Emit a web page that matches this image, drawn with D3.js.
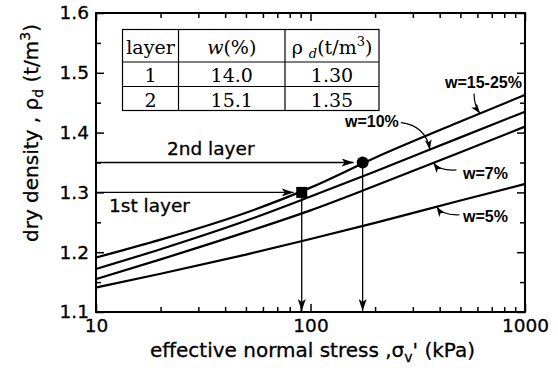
<!DOCTYPE html>
<html>
<head>
<meta charset="utf-8">
<script src="https://cdn.jsdelivr.net/npm/d3@7"></script>
<style>
  html, body { margin: 0; padding: 0; background: #fff; }
  svg { display: block; }
  .sans { stroke: #000; stroke-width: 0.3px; }
</style>
</head>
<body>
<svg id="chart" width="558" height="368"></svg>
<script>
// Compaction curves: dry density vs. effective normal stress
const stressKPa = [10, 20, 50, 100, 200, 500, 1000];
const rhoW15to25 = [1.191, 1.221, 1.266, 1.308, 1.358, 1.4185, 1.463];
const rhoW10 = [1.172, 1.205, 1.2525, 1.293, 1.335, 1.392, 1.435];
const rhoW7 = [1.155, 1.188, 1.2335, 1.270, 1.311, 1.367, 1.410];
const rhoW5 = [1.141, 1.164, 1.196, 1.222, 1.249, 1.2865, 1.314];

const curveNames = ["w=15-25%", "w=10%", "w=7%", "w=5%"];
const curveValues = [rhoW15to25, rhoW10, rhoW7, rhoW5];
// stress at which each label's leader touches its curve
const labelStress = [617, 360, 374, 387];

// layer table
const layerIds = ["1", "2"];
const layerW = ["14.0", "15.1"];
const layerRho = [1.30, 1.35];
const layerStress = [91, 175];

const xTicksMajor = [10, 100, 1000];
const xTicksMinor = [20, 30, 40, 50, 60, 70, 80, 90, 200, 300, 400, 500, 600, 700, 800, 900];
const yTicksMajor = [1.1, 1.2, 1.3, 1.4, 1.5, 1.6];
const yTicksMinor = [1.15, 1.25, 1.35, 1.45, 1.55];

const svg = d3.select("#chart");
const L = 96, R = 525, T = 13, B = 312;
const x = d3.scaleLog().domain([10, 1000]).range([L, R]);
const y = d3.scaleLinear().domain([1.1, 1.6]).range([B, T]);

const sans = "'DejaVu Sans', Verdana, sans-serif";
const labelSans = "'Liberation Sans', Arial, Helvetica, sans-serif";
const serif = "'DejaVu Serif', serif";

// arrowhead markers
const defs = svg.append("defs");
defs.append("marker")
  .attr("id", "head")
  .attr("markerUnits", "userSpaceOnUse")
  .attr("viewBox", "0 0 12 8")
  .attr("refX", 12).attr("refY", 4)
  .attr("markerWidth", 12).attr("markerHeight", 8)
  .attr("orient", "auto")
  .append("path").attr("d", "M0,0 L12,4 L0,8 L3,4 Z").attr("fill", "#000");
defs.append("marker")
  .attr("id", "headSmall")
  .attr("markerUnits", "userSpaceOnUse")
  .attr("viewBox", "0 0 10 7")
  .attr("refX", 10).attr("refY", 3.5)
  .attr("markerWidth", 10).attr("markerHeight", 7)
  .attr("orient", "auto")
  .append("path").attr("d", "M0,0 L10,3.5 L0,7 L2.5,3.5 Z").attr("fill", "#000");

// axes with inward ticks
function drawXAxis(gen, yPos, labels) {
  const gMaj = svg.append("g").attr("transform", `translate(0,${yPos})`)
    .call(gen(x).tickValues(xTicksMajor).tickSize(labels ? -8 : 8)
      .tickFormat(labels ? d3.format("d") : ""));
  const gMin = svg.append("g").attr("transform", `translate(0,${yPos})`)
    .call(gen(x).tickValues(xTicksMinor).tickSize(labels ? -5 : 5).tickFormat(""));
  [gMaj, gMin].forEach(g => {
    g.select(".domain").remove();
    g.selectAll(".tick line").attr("stroke", "#000").attr("stroke-width", 1.5);
  });
  if (labels) {
    gMaj.selectAll(".tick text")
      .attr("class", "sans")
      .attr("y", 6).attr("dy", "0.73em")
      .attr("font-family", sans).attr("font-size", 18.5).attr("fill", "#000");
  }
}
function drawYAxis(gen, xPos, labels) {
  const gMaj = svg.append("g").attr("transform", `translate(${xPos},0)`)
    .call(gen(y).tickValues(yTicksMajor).tickSize(-8)
      .tickFormat(labels ? d3.format(".1f") : ""));
  const gMin = svg.append("g").attr("transform", `translate(${xPos},0)`)
    .call(gen(y).tickValues(yTicksMinor).tickSize(-5).tickFormat(""));
  [gMaj, gMin].forEach(g => {
    g.select(".domain").remove();
    g.selectAll(".tick line").attr("stroke", "#000").attr("stroke-width", 1.5);
  });
  if (labels) {
    gMaj.selectAll(".tick text")
      .attr("class", "sans")
      .attr("x", -7)
      .attr("font-family", sans).attr("font-size", 18.5).attr("fill", "#000");
  }
}
drawXAxis(d3.axisBottom, B, true);
drawXAxis(d3.axisBottom, T, false);
drawYAxis(d3.axisLeft, L, true);
drawYAxis(d3.axisRight, R, false);

// frame
svg.append("rect")
  .attr("x", L).attr("y", T).attr("width", R - L).attr("height", B - T)
  .attr("fill", "none").attr("stroke", "#000").attr("stroke-width", 2);

// axis titles
svg.append("text")
  .attr("class", "sans")
  .attr("x", (L + R) / 2 + 2).attr("y", 357)
  .attr("text-anchor", "middle")
  .attr("font-family", sans).attr("font-size", 20).attr("fill", "#000")
  .html('effective normal stress ,σ<tspan font-size="14" dy="5">v</tspan><tspan dy="-5">\' (kPa)</tspan>');

svg.append("text")
  .attr("class", "sans")
  .attr("transform", "translate(38,133) rotate(-90)")
  .attr("text-anchor", "middle")
  .attr("font-family", sans).attr("font-size", 20).attr("fill", "#000")
  .html('dry density , ρ<tspan font-size="14" dy="5">d</tspan><tspan dy="-5"> (t/m</tspan><tspan font-size="14" dy="-8">3</tspan><tspan dy="8">)</tspan>');

// compaction curves
const line = d3.line()
  .x(d => x(d[0]))
  .y(d => y(d[1]))
  .curve(d3.curveMonotoneX);

curveValues.forEach(vals => {
  svg.append("path")
    .datum(stressKPa.map((s, i) => [s, vals[i]]))
    .attr("d", line)
    .attr("fill", "none")
    .attr("stroke", "#000")
    .attr("stroke-width", 2.2);
});

// value of a curve at a given stress (linear in log-stress)
function curveAt(vals, s) {
  const ls = Math.log10(s);
  for (let i = 0; i < stressKPa.length - 1; i++) {
    const a = Math.log10(stressKPa[i]), b = Math.log10(stressKPa[i + 1]);
    if (ls >= a && ls <= b) {
      const t = (ls - a) / (b - a);
      return vals[i] + t * (vals[i + 1] - vals[i]);
    }
  }
  return vals[vals.length - 1];
}

// layer guide arrows
const markGap = [8, 9];
layerStress.forEach((s, i) => {
  const px = x(s), py = y(layerRho[i]);
  svg.append("line")
    .attr("x1", L).attr("y1", py).attr("x2", px - markGap[i]).attr("y2", py)
    .attr("stroke", "#000").attr("stroke-width", 1.3)
    .attr("marker-end", "url(#head)");
  svg.append("line")
    .attr("x1", px).attr("y1", py).attr("x2", px).attr("y2", B - 1)
    .attr("stroke", "#000").attr("stroke-width", 1.3)
    .attr("marker-end", "url(#head)");
});

// layer markers: square for layer 1, circle for layer 2
svg.append("rect")
  .attr("x", x(layerStress[0]) - 5.5).attr("y", y(layerRho[0]) - 5.5)
  .attr("width", 11).attr("height", 11).attr("fill", "#000");
svg.append("circle")
  .attr("cx", x(layerStress[1])).attr("cy", y(layerRho[1]))
  .attr("r", 6).attr("fill", "#000");

svg.append("text").attr("class", "sans").attr("x", 167).attr("y", y(layerRho[1]) - 8)
  .attr("font-family", sans).attr("font-size", 18.5).attr("fill", "#000").text("2nd layer");
svg.append("text").attr("class", "sans").attr("x", 109).attr("y", y(layerRho[0]) + 20)
  .attr("font-family", sans).attr("font-size", 18.5).attr("fill", "#000").text("1st layer");

// curve labels with leaders
const labelDefs = [
  { tx: 445, ty: 88, start: [-6, -20], ctrl: [-6, -8] },
  { tx: 345, ty: 127, start: [-29, -27], ctrl: [-4, -24] },
  { tx: 463, ty: 179, start: [23, 7], ctrl: [6, 8] },
  { tx: 463, ty: 222, start: [23, 8], ctrl: [6, 9] }
];
curveNames.forEach((name, i) => {
  const ex = x(labelStress[i]), ey = y(curveAt(curveValues[i], labelStress[i]));
  const d = labelDefs[i];
  svg.append("path")
    .attr("d", `M${ex + d.start[0]},${ey + d.start[1]} Q${ex + d.ctrl[0]},${ey + d.ctrl[1]} ${ex},${ey}`)
    .attr("fill", "none").attr("stroke", "#000").attr("stroke-width", 1.2)
    .attr("marker-end", "url(#headSmall)");
  svg.append("text").attr("x", d.tx).attr("y", d.ty)
    .attr("font-family", labelSans).attr("font-size", 16).attr("font-weight", "bold")
    .attr("fill", "#000").text(name);
});

// layer table
const colX = [122.5, 178.5, 285, 379];
const rowY = [29.5, 62, 86.5, 110.5];
const tbl = svg.append("g");
tbl.append("rect")
  .attr("x", colX[0]).attr("y", rowY[0])
  .attr("width", colX[3] - colX[0]).attr("height", rowY[3] - rowY[0])
  .attr("fill", "#fff").attr("stroke", "#000").attr("stroke-width", 1.2);
[1, 2].forEach(i => {
  tbl.append("line").attr("x1", colX[i]).attr("x2", colX[i])
    .attr("y1", rowY[0]).attr("y2", rowY[3]).attr("stroke", "#000").attr("stroke-width", 1.2);
  tbl.append("line").attr("x1", colX[0]).attr("x2", colX[3])
    .attr("y1", rowY[i]).attr("y2", rowY[i]).attr("stroke", "#000").attr("stroke-width", 1.2);
});
const cx = i => (colX[i] + colX[i + 1]) / 2;
const cellText = (col, yy) => tbl.append("text")
  .attr("x", cx(col)).attr("y", yy).attr("text-anchor", "middle")
  .attr("font-family", serif).attr("font-size", 19).attr("fill", "#000");
cellText(0, 54).text("layer");
cellText(1, 54).html('<tspan font-style="italic">w</tspan>(%)');
cellText(2, 54).html('ρ <tspan font-style="italic" font-size="13" dy="4">d</tspan><tspan dy="-4">(t/m</tspan><tspan font-size="13" dy="-8">3</tspan><tspan dy="8">)</tspan>');
layerIds.forEach((id, i) => {
  const yy = rowY[i + 1] + 20;
  cellText(0, yy).text(id);
  cellText(1, yy).text(layerW[i]);
  cellText(2, yy).text(d3.format(".2f")(layerRho[i]));
});
</script>
</body>
</html>
